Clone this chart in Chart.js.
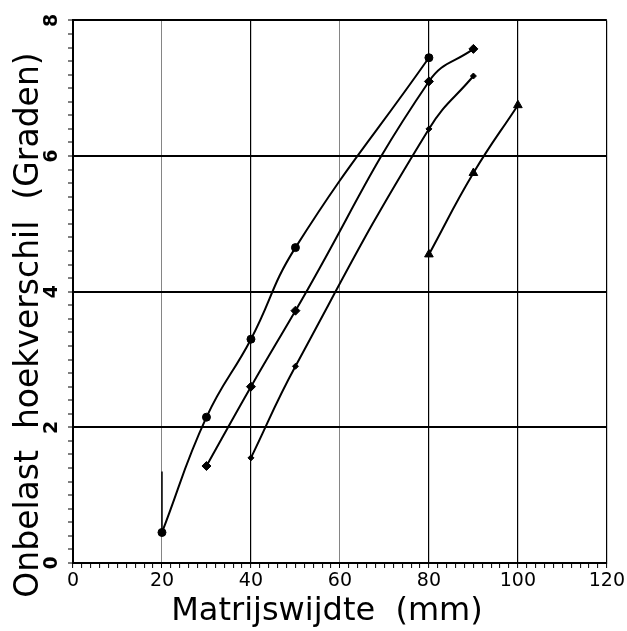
<!DOCTYPE html>
<html>
<head>
<meta charset="utf-8">
<script src="https://cdn.jsdelivr.net/npm/chart.js@4.4.1/dist/chart.umd.min.js"></script>
<style>
    html, body { margin: 0; padding: 0; background: #fff; }
    #wrap { width: 627px; height: 631px; position: relative; }
</style>
</head>
<body>
<div id="wrap"><canvas id="hoekChart"></canvas></div>
<script>
// matrijswijdte (mm) en gemeten hoekverschil per meetreeks
const xReeks1 = [20, 30, 40, 50, 80];
const yReeks1 = [0.45, 2.15, 3.3, 4.65, 7.45];

const xReeks2 = [30, 40, 50, 80, 90];
const yReeks2 = [1.43, 2.6, 3.72, 7.1, 7.58];

const xReeks3 = [40, 50, 80, 90];
const yReeks3 = [1.55, 2.9, 6.4, 7.18];

const xReeks4 = [80, 90, 100];
const yReeks4 = [4.55, 5.75, 6.75];

// losse verticale streep bij 20 mm
const xStreep = [20, 20];
const yStreep = [0.45, 1.35];

const xLabels = [0, 20, 40, 60, 80, 100, 120];
const yLabels = [0, 2, 4, 6, 8];

const xTitel = "Matrijswijdte  (mm)";
const yTitel = "Onbelast  hoekverschil  (Graden)";

function punten(xs, ys) {
    return xs.map((x, i) => ({ x: x, y: ys[i] }));
}

function reeks(xs, ys, stijl, straal) {
    return {
        data: punten(xs, ys),
        borderColor: "#000",
        backgroundColor: "#000",
        borderWidth: 2,
        pointStyle: stijl,
        pointRadius: straal,
        pointBorderWidth: 1,
        tension: 0.45,
        fill: false
    };
}

function isLabel(v, lijst) {
    return lijst.some(l => Math.abs(l - v) < 1e-6);
}

// astitels zelf tekenen zodat ze net als op papier staan
const asTitels = {
    id: "asTitels",
    afterDraw(chart) {
        const ctx = chart.ctx;
        ctx.save();
        ctx.fillStyle = "#000";
        ctx.textAlign = "center";
        ctx.textBaseline = "middle";
        ctx.font = "32px 'DejaVu Sans'";
        ctx.fillText(xTitel, 327, 612);
        ctx.translate(29, 325);
        ctx.rotate(-Math.PI / 2);
        ctx.font = "33px 'DejaVu Sans'";
        ctx.fillText(yTitel, 0, 0);
        ctx.restore();
    }
};

const ctx = document.getElementById("hoekChart").getContext("2d");

new Chart(ctx, {
    type: "line",
    data: {
        datasets: [
            reeks(xReeks1, yReeks1, "circle", 4),
            reeks(xReeks2, yReeks2, "rectRot", 4.5),
            reeks(xReeks3, yReeks3, "rectRot", 3),
            reeks(xReeks4, yReeks4, "triangle", 5),
            {
                data: punten(xStreep, yStreep),
                borderColor: "#000",
                borderWidth: 1.5,
                pointRadius: 0,
                tension: 0,
                fill: false
            }
        ]
    },
    options: {
        responsive: true,
        maintainAspectRatio: false,
        animation: false,
        layout: { padding: { top: 20, right: 20, left: 0, bottom: 0 } },
        plugins: {
            legend: { display: false },
            tooltip: { enabled: false }
        },
        scales: {
            x: {
                type: "linear",
                min: 0,
                max: 120,
                afterFit: scale => { scale.height = 68; },
                border: { color: "#000", width: 2 },
                grid: {
                    color: c => {
                        const v = c.tick.value;
                        if (!isLabel(v, xLabels)) return "transparent";
                        return (v === 20 || v === 60) ? "#666" : "#000";
                    },
                    lineWidth: c => (c.tick.value === 20 || c.tick.value === 60) ? 0.8 : 1.2,
                    tickColor: "#000",
                    tickWidth: 1,
                    tickLength: 5
                },
                ticks: {
                    stepSize: 2,
                    autoSkip: false,
                    maxRotation: 0,
                    padding: 2,
                    color: "#000",
                    font: { family: "DejaVu Sans", size: 19 },
                    callback: v => isLabel(v, xLabels) ? String(v) : ""
                }
            },
            y: {
                type: "linear",
                min: 0,
                max: 8,
                afterFit: scale => { scale.width = 73; },
                border: { color: "#000", width: 2 },
                grid: {
                    color: c => isLabel(c.tick.value, yLabels) ? "#000" : "transparent",
                    lineWidth: 2,
                    tickColor: "#000",
                    tickWidth: 1,
                    tickLength: 5
                },
                ticks: {
                    stepSize: 0.2,
                    autoSkip: false,
                    minRotation: 90,
                    maxRotation: 90,
                    crossAlign: "center",
                    padding: 9,
                    color: "#000",
                    font: { family: "DejaVu Sans", size: 19, weight: "bold" },
                    callback: v => isLabel(v, yLabels) ? String(Math.round(v)) : ""
                }
            }
        }
    },
    plugins: [asTitels]
});
</script>
</body>
</html>
